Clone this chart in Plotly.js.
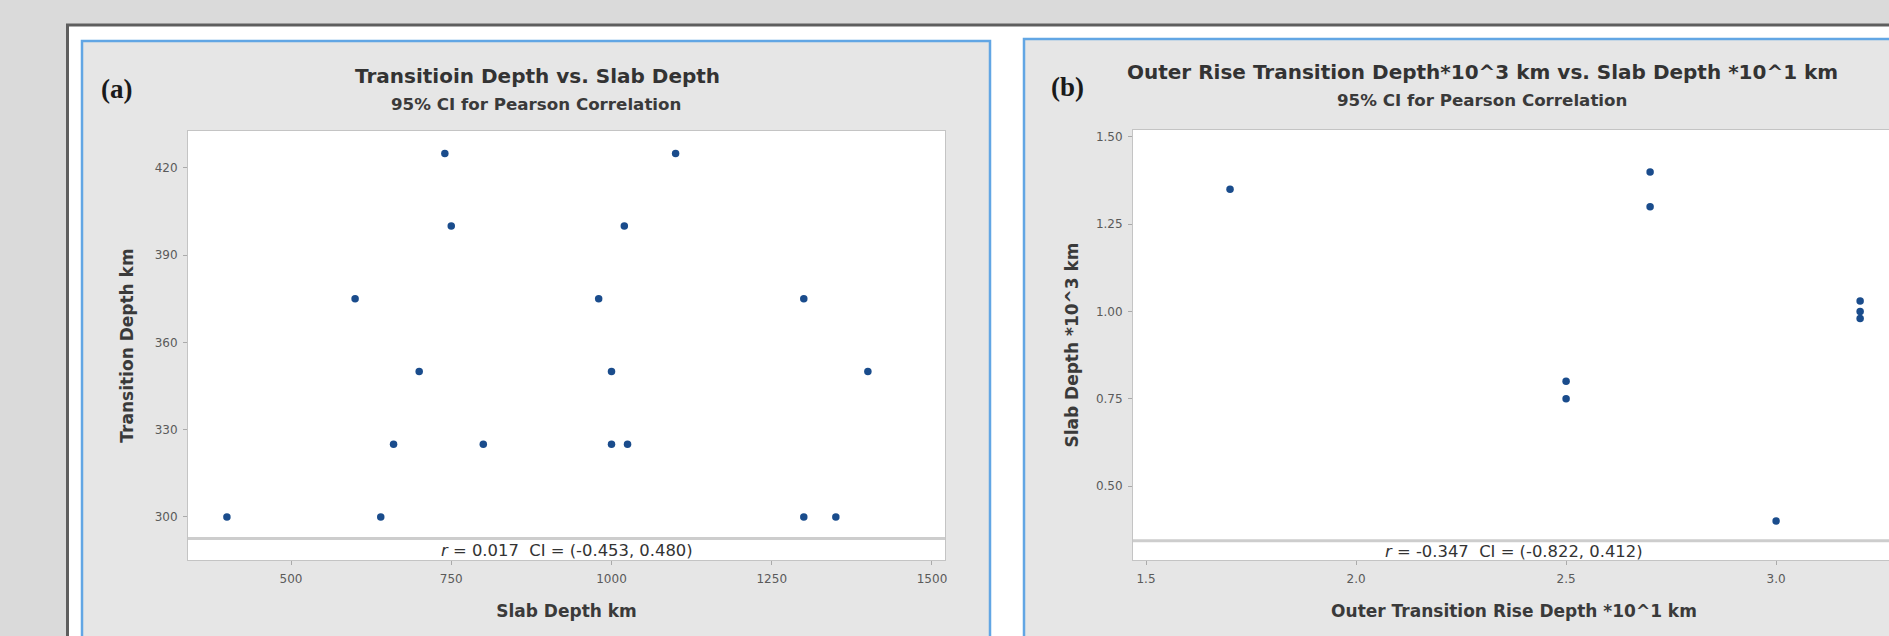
<!DOCTYPE html>
<html>
<head>
<meta charset="utf-8">
<script src="https://cdn.plot.ly/plotly-3.0.1.min.js"></script>
<style>
  html, body { margin: 0; padding: 0; overflow: hidden; background: #dadada; }
  #chart { width: 1935px; height: 636px; }
</style>
</head>
<body>
<div id="chart"></div>
<script>
// ---------- data ----------
// Panel (a): Transition depth vs. slab depth
const slabDepthA       = [740, 1100, 750, 1020, 600, 980, 1300, 700, 1000, 1400, 660, 800, 1000, 1025, 400, 640, 1300, 1350];
const transitionDepthA = [425, 425, 400, 400, 375, 375, 375, 350, 350, 350, 325, 325, 325, 325, 300, 300, 300, 300];
const xTicksA = [500, 750, 1000, 1250, 1500];
const yTicksA = [300, 330, 360, 390, 420];

// Panel (b): Outer rise transition depth vs. slab depth
const riseDepthB = [1.7, 2.7, 2.7, 2.5, 2.5, 3.0, 3.2, 3.2, 3.2];
const slabDepthB = [1.35, 1.40, 1.30, 0.80, 0.75, 0.40, 0.98, 1.00, 1.03];
const xTicksB = [1.5, 2.0, 2.5, 3.0];
const xTickTextB = ['1.5', '2.0', '2.5', '3.0'];
const yTicksB = [0.50, 0.75, 1.00, 1.25, 1.50];
const yTickTextB = ['0.50', '0.75', '1.00', '1.25', '1.50'];

const panelLabels = ['(a)', '(b)'];
const titles = ['Transitioin Depth vs. Slab Depth',
                'Outer Rise Transition Depth*10^3 km vs. Slab Depth *10^1 km'];
const subtitle = '95% CI for Pearson Correlation';
const statsText = ['<i>r</i> = 0.017  CI = (-0.453, 0.480)',
                   '<i>r</i> = -0.347  CI = (-0.822, 0.412)'];
const xTitles = ['Slab Depth km', 'Outer Transition Rise Depth *10^1 km'];
const yTitles = ['Transition Depth km', 'Slab Depth *10^3 km'];

// ---------- geometry helpers (pixels -> paper) ----------
const W = 1935, H = 636;
const px = v => v / W;
const py = v => 1 - v / H;

const FONT = 'DejaVu Sans, Open Sans, sans-serif';
const SERIF = 'Liberation Serif, Times New Roman, serif';
const markerColor = '#1a4c8c';
const panelFill = '#e6e6e6';
const panelLine = '#62a6e4';
const boxLine = '#c4c4c4';

const traces = [
  { type: 'scatter', mode: 'markers', x: slabDepthA, y: transitionDepthA,
    xaxis: 'x', yaxis: 'y', marker: { color: markerColor, size: 7.5 }, hoverinfo: 'x+y', showlegend: false },
  { type: 'scatter', mode: 'markers', x: riseDepthB, y: slabDepthB,
    xaxis: 'x2', yaxis: 'y2', marker: { color: markerColor, size: 7.5 }, hoverinfo: 'x+y', showlegend: false }
];

const tickFont = { family: FONT, size: 12, color: '#5a5a5a' };
const axTitleFont = { family: FONT, size: 17, color: '#3a3a3a', weight: 'bold' };

function axisCommon() {
  return {
    showgrid: false, zeroline: false,
    showline: true, mirror: true, linecolor: boxLine, linewidth: 1,
    ticks: 'outside', ticklen: 4, tickcolor: '#aaaaaa', tickwidth: 1,
    tickfont: tickFont, fixedrange: true
  };
}

const layout = {
  width: W, height: H,
  margin: { l: 0, r: 0, t: 0, b: 0 },
  paper_bgcolor: '#dadada',
  plot_bgcolor: 'rgba(0,0,0,0)',
  showlegend: false,
  xaxis: Object.assign(axisCommon(), {
    domain: [px(188), px(945)], range: [339.3, 1520.3],
    tickmode: 'array', tickvals: xTicksA, anchor: 'y', ticklabelstandoff: 4,
    title: { text: xTitles[0], font: axTitleFont, standoff: 19 }
  }),
  yaxis: Object.assign(axisCommon(), {
    domain: [py(560), py(131)], range: [285.2, 432.7],
    tickmode: 'array', tickvals: yTicksA, anchor: 'x', ticklabelstandoff: 3,
    title: { text: yTitles[0], font: axTitleFont, standoff: 16 }
  }),
  xaxis2: Object.assign(axisCommon(), {
    domain: [px(1133), px(1895)], range: [1.469, 3.283],
    tickmode: 'array', tickvals: xTicksB, ticktext: xTickTextB, anchor: 'y2', ticklabelstandoff: 4,
    title: { text: xTitles[1], font: axTitleFont, standoff: 19 }
  }),
  yaxis2: Object.assign(axisCommon(), {
    domain: [py(560), py(130)], range: [0.288, 1.52],
    tickmode: 'array', tickvals: yTicksB, ticktext: yTickTextB, anchor: 'x2', ticklabelstandoff: 3,
    title: { text: yTitles[1], font: axTitleFont, standoff: 12 }
  }),
  shapes: [
    // white mat inside the dark frame
    { type: 'rect', xref: 'paper', yref: 'paper', layer: 'below',
      x0: px(67), x1: 1, y0: -0.05, y1: py(25), fillcolor: '#ffffff', line: { width: 0 } },
    // dark frame lines
    { type: 'line', xref: 'paper', yref: 'paper', layer: 'below',
      x0: px(66), x1: 1, y0: py(25), y1: py(25), line: { color: '#5e5e5e', width: 3 } },
    { type: 'line', xref: 'paper', yref: 'paper', layer: 'below',
      x0: px(67.5), x1: px(67.5), y0: py(24), y1: -0.05, line: { color: '#5e5e5e', width: 3 } },
    // panel (a)
    { type: 'rect', xref: 'paper', yref: 'paper', layer: 'below',
      x0: px(82), x1: px(990), y0: -0.05, y1: py(41), fillcolor: panelFill, line: { color: panelLine, width: 2.5 } },
    // panel (b)
    { type: 'rect', xref: 'paper', yref: 'paper', layer: 'below',
      x0: px(1024), x1: 1.05, y0: -0.05, y1: py(39), fillcolor: panelFill, line: { color: panelLine, width: 2.5 } },
    // white plot areas
    { type: 'rect', xref: 'paper', yref: 'paper', layer: 'below',
      x0: px(188), x1: px(945), y0: py(560), y1: py(131), fillcolor: '#ffffff', line: { width: 0 } },
    { type: 'rect', xref: 'paper', yref: 'paper', layer: 'below',
      x0: px(1133), x1: px(1895), y0: py(560), y1: py(130), fillcolor: '#ffffff', line: { width: 0 } },
    // separator bands above the correlation text
    { type: 'line', xref: 'x domain', yref: 'y', x0: 0, x1: 1, y0: 292.6, y1: 292.6,
      line: { color: '#cdcdcd', width: 3 } },
    { type: 'line', xref: 'x2 domain', yref: 'y2', x0: 0, x1: 1, y0: 0.343, y1: 0.343,
      line: { color: '#cdcdcd', width: 3 } }
  ],
  annotations: [
    { text: '<b>' + panelLabels[0] + '</b>', xref: 'paper', yref: 'paper', x: px(116.5), y: py(89),
      showarrow: false, xanchor: 'center', yanchor: 'middle',
      font: { family: SERIF, size: 27, color: '#1a1a1a' } },
    { text: '<b>' + panelLabels[1] + '</b>', xref: 'paper', yref: 'paper', x: px(1067.5), y: py(87),
      showarrow: false, xanchor: 'center', yanchor: 'middle',
      font: { family: SERIF, size: 27, color: '#1a1a1a' } },
    { text: '<b>' + titles[0] + '</b>', xref: 'paper', yref: 'paper', x: px(537), y: py(76),
      showarrow: false, xanchor: 'center', yanchor: 'middle',
      font: { family: FONT, size: 20, color: '#333333' } },
    { text: '<b>' + subtitle + '</b>', xref: 'paper', yref: 'paper', x: px(536), y: py(104),
      showarrow: false, xanchor: 'center', yanchor: 'middle',
      font: { family: FONT, size: 16.7, color: '#3a3a3a' } },
    { text: '<b>' + titles[1] + '</b>', xref: 'paper', yref: 'paper', x: px(1482), y: py(72),
      showarrow: false, xanchor: 'center', yanchor: 'middle',
      font: { family: FONT, size: 20, color: '#333333' } },
    { text: '<b>' + subtitle + '</b>', xref: 'paper', yref: 'paper', x: px(1482), y: py(100),
      showarrow: false, xanchor: 'center', yanchor: 'middle',
      font: { family: FONT, size: 16.7, color: '#3a3a3a' } },
    { text: statsText[0], xref: 'x domain', yref: 'paper', x: 0.5, y: py(550),
      showarrow: false, xanchor: 'center', yanchor: 'middle',
      font: { family: FONT, size: 16.4, color: '#333333' } },
    { text: statsText[1], xref: 'x2 domain', yref: 'paper', x: 0.5, y: py(551),
      showarrow: false, xanchor: 'center', yanchor: 'middle',
      font: { family: FONT, size: 16.4, color: '#333333' } }
  ]
};

Plotly.newPlot('chart', traces, layout, { displayModeBar: false, staticPlot: true });
</script>
</body>
</html>
